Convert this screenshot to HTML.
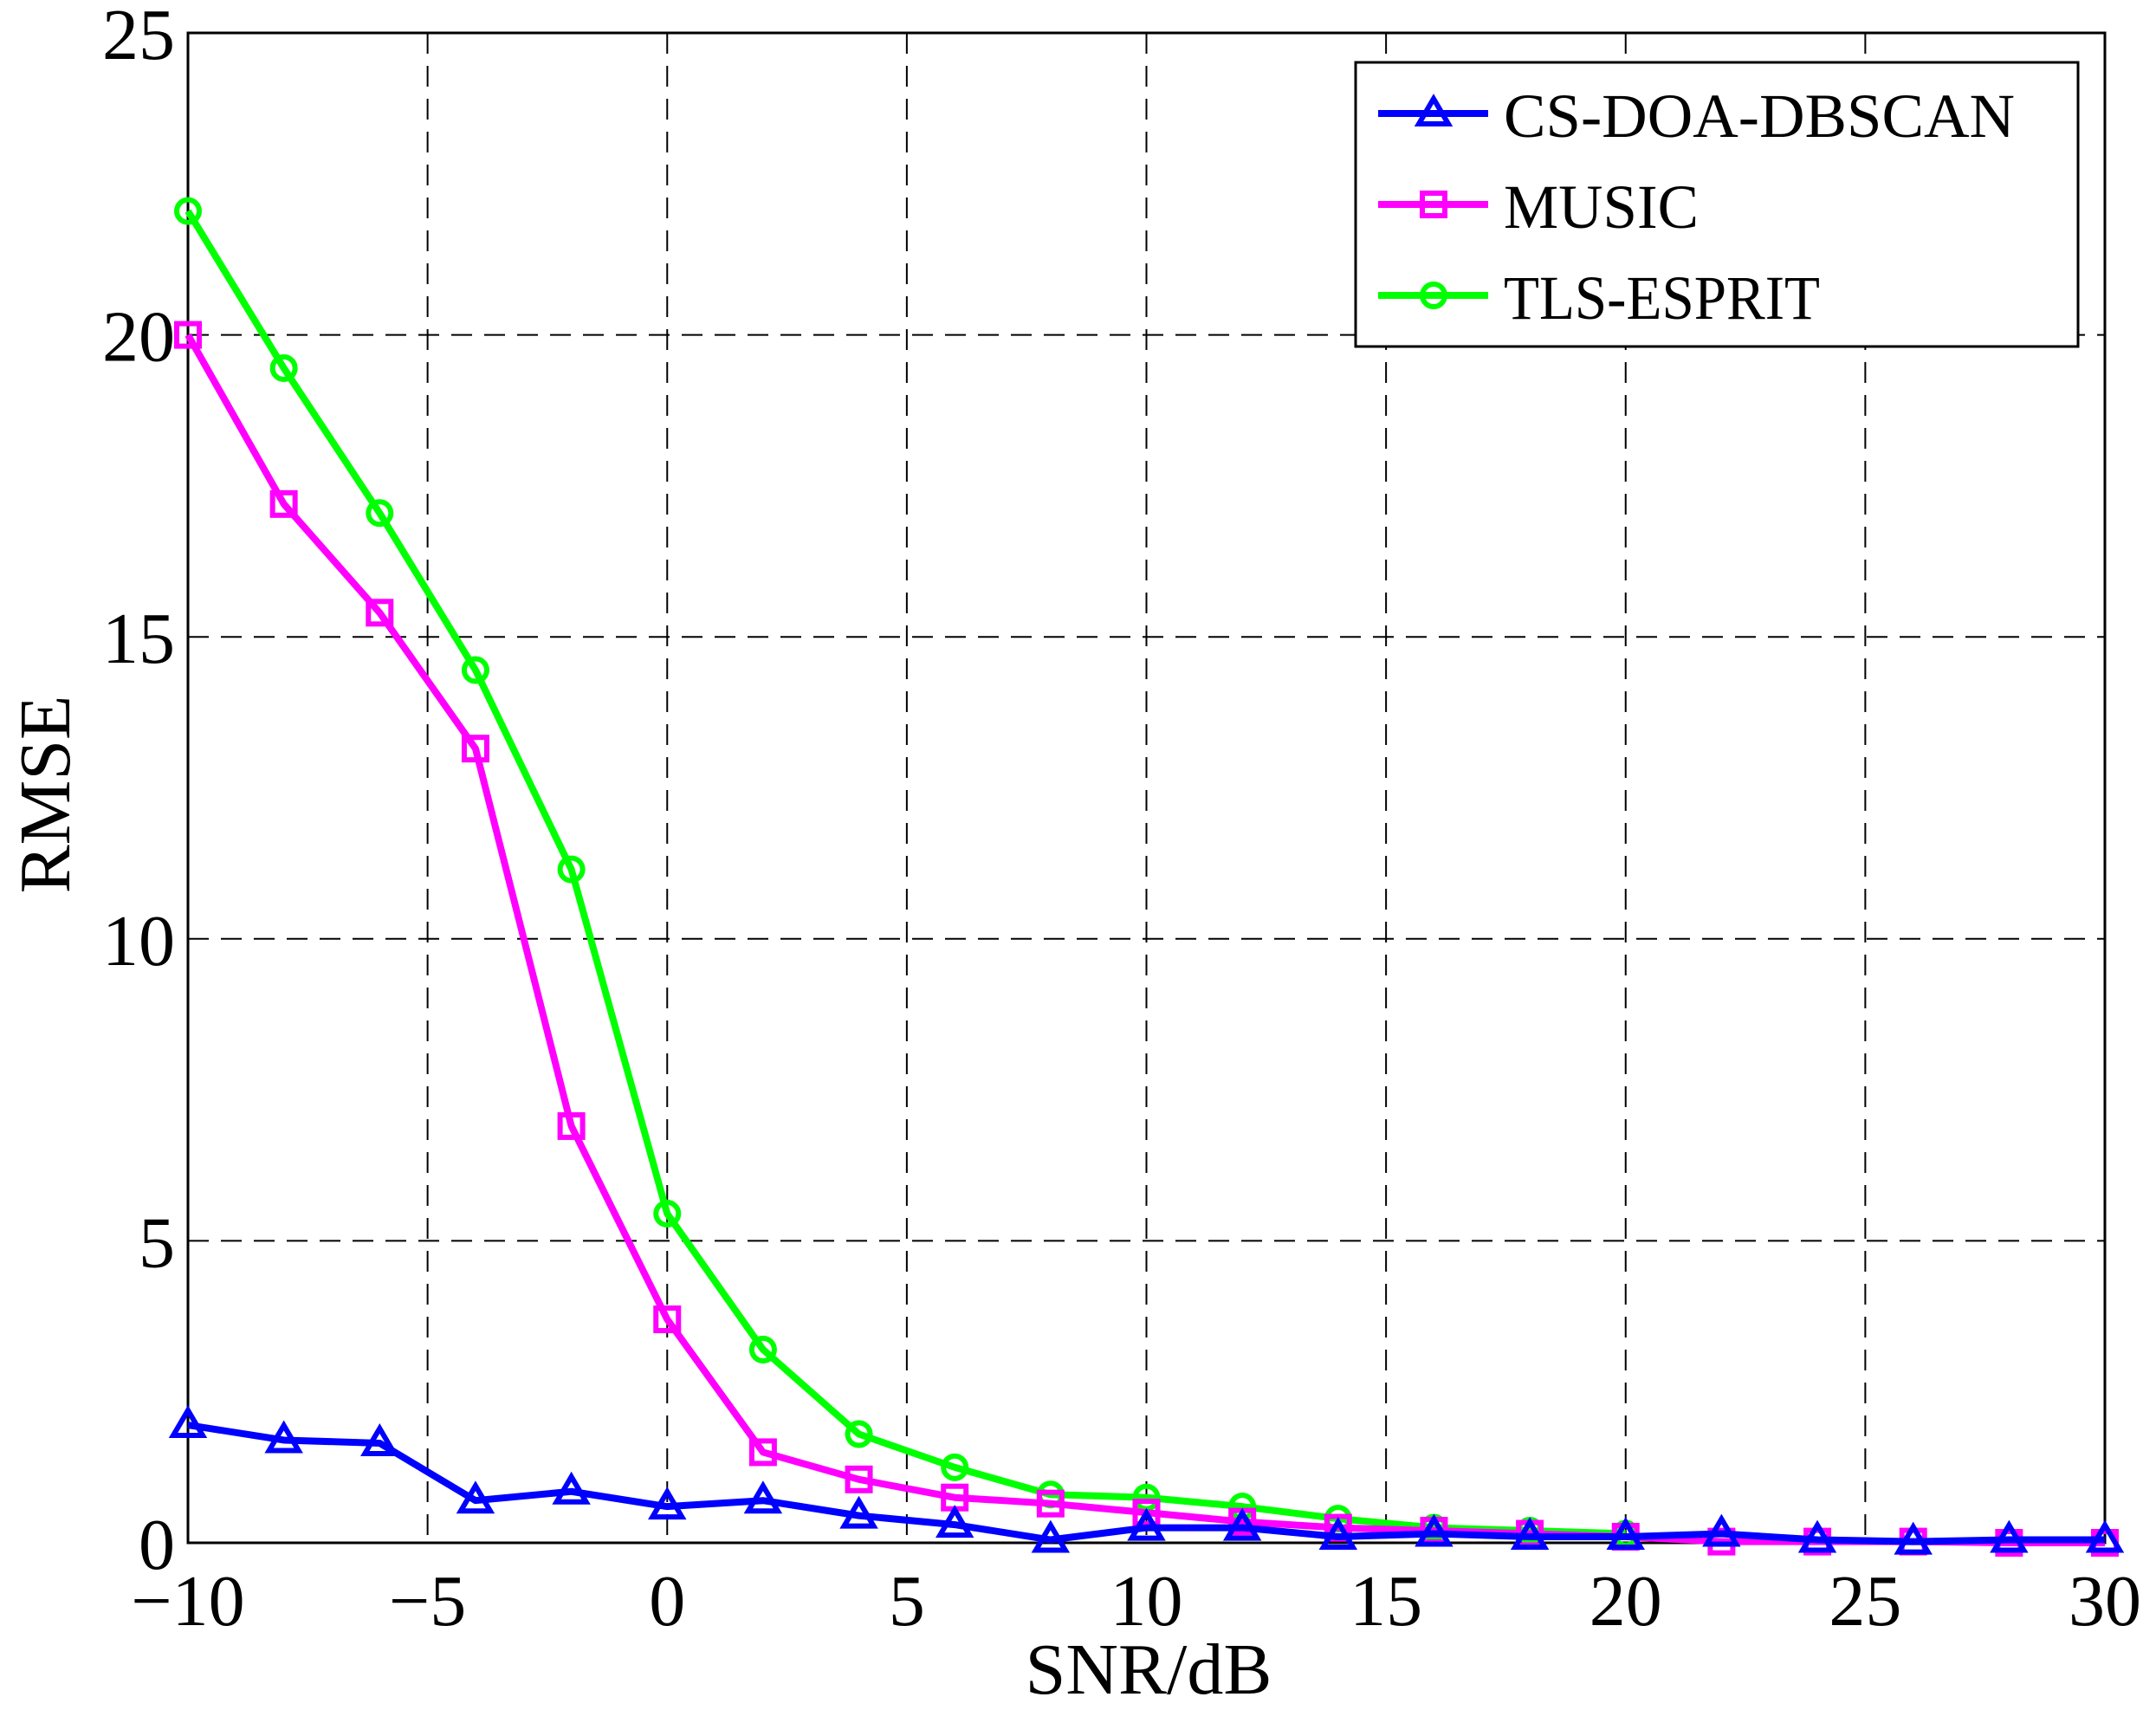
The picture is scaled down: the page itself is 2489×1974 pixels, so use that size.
<!DOCTYPE html>
<html><head><meta charset="utf-8"><style>
html,body{margin:0;padding:0;background:#fff;}
svg{display:block;}
text{font-family:"Liberation Serif",serif;fill:#000;}
</style></head><body>
<svg id="s" width="2489" height="1974" xmlns="http://www.w3.org/2000/svg"></svg>
<script>
const s=document.getElementById('s');
const L=217,R=2430,T=38,B=1781;
const X=v=>L+(v+10)/40*(R-L), Y=v=>B-v/25*(B-T);
let h='';
for(let v=-5;v<30;v+=5)h+=`<line x1="${X(v)}" y1="${T}" x2="${X(v)}" y2="${B}" stroke="#000" stroke-width="2" stroke-dasharray="24,14"/>`;
for(let v=5;v<25;v+=5)h+=`<line x1="${L}" y1="${Y(v)}" x2="${R}" y2="${Y(v)}" stroke="#000" stroke-width="2" stroke-dasharray="24,14"/>`;
h+=`<rect x="${L}" y="${T}" width="${R-L}" height="${B-T}" fill="none" stroke="#000" stroke-width="3"/>`;
for(let v=-10;v<=30;v+=5){let t=v<0?'\u2212'+(-v):v;h+=`<text x="${X(v)}" y="1876" font-size="84" text-anchor="middle">${t}</text>`;}
for(let v=0;v<=25;v+=5)h+=`<text x="202" y="${Y(v)+30}" font-size="84" text-anchor="end">${v}</text>`;
h+=`<text x="1326" y="1955" font-size="84" text-anchor="middle">SNR/dB</text>`;
h+=`<text transform="translate(80,917) rotate(-90)" font-size="84" text-anchor="middle">RMSE</text>`;
const xs=[];for(let v=-10;v<=30;v+=2)xs.push(v);
const blue=[1.95,1.7,1.65,0.7,0.85,0.6,0.7,0.45,0.3,0.05,0.25,0.25,0.1,0.15,0.1,0.1,0.15,0.05,0.02,0.05,0.05];
const mag=[20,17.2,15.4,13.15,6.9,3.7,1.5,1.05,0.75,0.65,0.5,0.35,0.25,0.2,0.15,0.1,0.02,0.02,0.02,0,0];
const grn=[22.05,19.45,17.05,14.45,11.15,5.45,3.2,1.8,1.25,0.8,0.75,0.6,0.4,0.25,0.2,0.15];
function tri(x,y,c){return `<polygon points="${x},${y-17} ${x-17},${y+12} ${x+17},${y+12}" fill="none" stroke="${c}" stroke-width="6"/>`;}
function sq(x,y,c){return `<rect x="${x-13}" y="${y-13}" width="26" height="26" fill="none" stroke="${c}" stroke-width="6"/>`;}
function cir(x,y,c){return `<circle cx="${x}" cy="${y}" r="13" fill="none" stroke="${c}" stroke-width="6"/>`;}
function series(d,c,m){let p=d.map((v,i)=>X(xs[i])+','+Y(v)).join(' ');let o=`<polyline points="${p}" fill="none" stroke="${c}" stroke-width="8" stroke-linejoin="round"/>`;d.forEach((v,i)=>o+=m(X(xs[i]),Y(v),c));return o;}
h+=series(grn,'#00ff00',cir);
h+=series(mag,'#ff00ff',sq);
h+=series(blue,'#0000ff',tri);
h+=`<rect x="1565" y="72" width="834" height="328" fill="#fff" stroke="#000" stroke-width="3"/>`;
const le=[['CS-DOA-DBSCAN','#0000ff',tri,131],['MUSIC','#ff00ff',sq,236],['TLS-ESPRIT','#00ff00',cir,341]];
le.forEach(([t,c,m,y])=>{h+=`<line x1="1591" y1="${y}" x2="1718" y2="${y}" stroke="${c}" stroke-width="8"/>`+m(1655,y,c)+`<text x="1736" y="${y+27}" font-size="72" textLength="590" lengthAdjust="spacingAndGlyphs">${t}</text>`;});
s.innerHTML=h;
// fix textLength only for first entry
const ts=s.querySelectorAll('text');ts[ts.length-2].setAttribute('textLength','225');ts[ts.length-1].setAttribute('textLength','365');
</script>
</body></html>
